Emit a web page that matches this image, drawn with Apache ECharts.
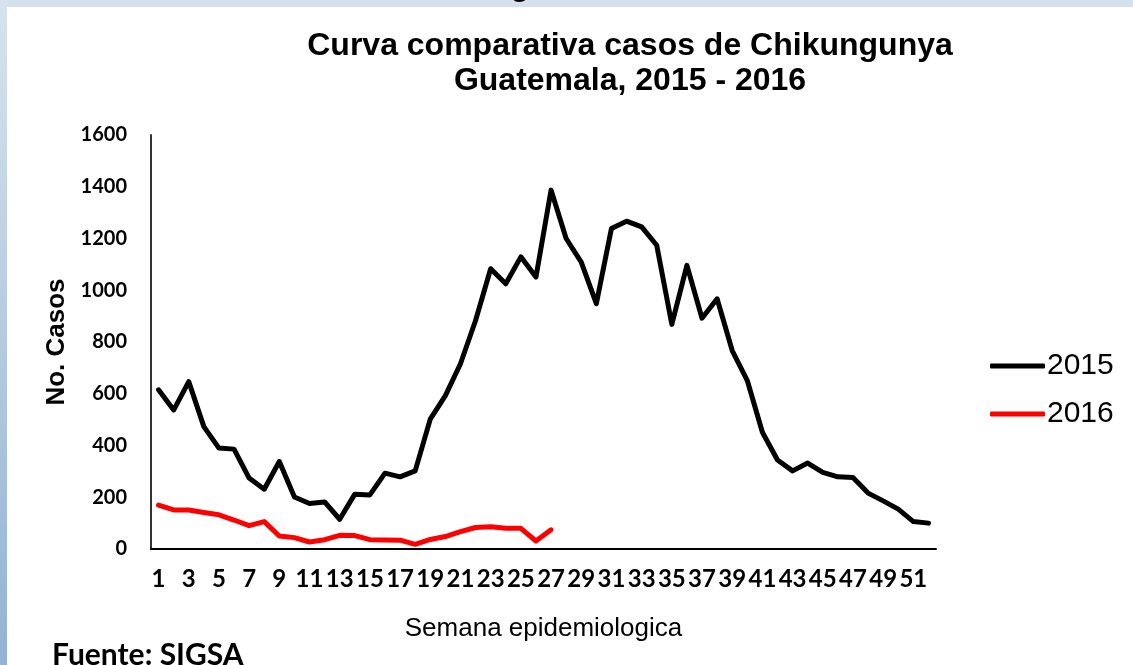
<!DOCTYPE html>
<html>
<head>
<meta charset="utf-8">
<title>Curva comparativa casos de Chikungunya</title>
<script src="https://cdn.jsdelivr.net/npm/echarts@6/dist/echarts.min.js"></script>
<style>
  html, body { margin: 0; padding: 0; background: #ffffff; }
  #chart { width: 1133px; height: 665px; }
</style>
</head>
<body>
<div id="chart"></div>
<script>
// semanas epidemiologicas
const weeks = ['1', '2', '3', '4', '5', '6', '7', '8', '9', '10', '11', '12', '13',
  '14', '15', '16', '17', '18', '19', '20', '21', '22', '23', '24', '25', '26',
  '27', '28', '29', '30', '31', '32', '33', '34', '35', '36', '37', '38', '39',
  '40', '41', '42', '43', '44', '45', '46', '47', '48', '49', '50', '51', '52'];

// casos 2015 (52 semanas)
const cases2015 = [615, 537, 647, 473, 390, 386, 274, 231, 338, 201, 176, 182, 115,
  212, 209, 293, 279, 302, 502, 593, 716, 883, 1083, 1025, 1129, 1051,
  1387, 1200, 1109, 948, 1239, 1267, 1245, 1174, 868, 1096, 892, 967, 767,
  651, 451, 344, 302, 332, 296, 279, 276, 216, 186, 154, 106, 100];

// casos 2016 (hasta semana 27)
const cases2016 = [170, 151, 151, 141, 132, 112, 90, 106, 50, 44, 27, 36, 53,
  52, 36, 35, 34, 18, 37, 48, 67, 83, 86, 80, 80, 31, 74];

const seriesNames = ['2015', '2016'];
const seriesColors = ['#000000', '#ff0000'];

const chart = echarts.init(document.getElementById('chart'));

const option = {
  animation: false,
  backgroundColor: 'transparent',
  graphic: [
    // fondo de la diapositiva
    { type: 'rect', z: -10, shape: { x: 0, y: 0, width: 1133, height: 8 }, style: { fill: '#d5e1ec' } },
    { type: 'text', z: -10, x: 520, y: -27, style: { text: 'g', font: 'bold 30px "Liberation Sans"', fill: '#000', textAlign: 'center', textVerticalAlign: 'top' } },
    {
      type: 'rect', z: -10, shape: { x: 0, y: 0, width: 7, height: 665 },
      style: {
        fill: new echarts.graphic.LinearGradient(0, 0, 0, 1, [
          { offset: 0, color: '#d7e3ee' },
          { offset: 1, color: '#92b3d2' }
        ])
      }
    },
    { type: 'rect', z: -9, shape: { x: 7, y: 7, width: 1126, height: 658 }, style: { fill: '#ffffff' } },
    {
      type: 'text', left: 52, top: 640,
      style: { text: 'Fuente: SIGSA', font: 'bold 30px Lato', fill: '#000' }
    }
  ],
  title: {
    text: 'Curva comparativa casos de Chikungunya\nGuatemala, 2015 - 2016',
    left: 625,
    top: 24,
    textAlign: 'center',
    textStyle: {
      fontFamily: 'Liberation Sans',
      fontWeight: 'bold',
      fontSize: 32,
      lineHeight: 35,
      color: '#000'
    }
  },
  legend: {
    orient: 'vertical',
    left: 985,
    top: 346,
    itemWidth: 55,
    itemHeight: 5,
    itemGap: 18,
    icon: 'roundRect',
    data: seriesNames,
    textStyle: {
      fontFamily: 'Liberation Sans',
      fontSize: 30,
      color: '#000',
      padding: [0, 0, 0, -3]
    }
  },
  grid: {
    left: 151,
    right: 197,
    top: 135,
    bottom: 116
  },
  xAxis: {
    type: 'category',
    data: weeks,
    boundaryGap: true,
    name: 'Semana epidemiologica',
    nameLocation: 'middle',
    nameGap: 67,
    nameTextStyle: {
      fontFamily: 'Liberation Sans',
      fontSize: 26,
      color: '#000'
    },
    axisLine: { lineStyle: { color: '#000', width: 2 } },
    axisTick: { show: false },
    axisLabel: {
      interval: 1,
      margin: 18,
      fontFamily: 'Lato',
      fontWeight: 'bold',
      fontSize: 24,
      color: '#000'
    }
  },
  yAxis: {
    type: 'value',
    min: 0,
    max: 1600,
    interval: 200,
    name: 'No. Casos',
    nameLocation: 'middle',
    nameGap: 80,
    nameRotate: 90,
    nameTextStyle: {
      fontFamily: 'Liberation Sans',
      fontWeight: 'bold',
      fontSize: 26,
      color: '#000'
    },
    axisLine: { show: true, lineStyle: { color: '#333', width: 2 } },
    axisTick: { show: false },
    splitLine: { show: false },
    axisLabel: {
      margin: 24,
      formatter: (v) => String(v),
      fontFamily: 'Lato',
      fontWeight: 'bold',
      fontSize: 20,
      color: '#000'
    }
  },
  series: [
    {
      name: seriesNames[0],
      type: 'line',
      data: cases2015,
      symbol: 'none',
      color: seriesColors[0],
      lineStyle: { width: 5, color: seriesColors[0], cap: 'round', join: 'round' }
    },
    {
      name: seriesNames[1],
      type: 'line',
      data: cases2016,
      symbol: 'none',
      color: seriesColors[1],
      lineStyle: { width: 5, color: seriesColors[1], cap: 'round', join: 'round' }
    }
  ]
};

chart.setOption(option);
</script>
</body>
</html>
